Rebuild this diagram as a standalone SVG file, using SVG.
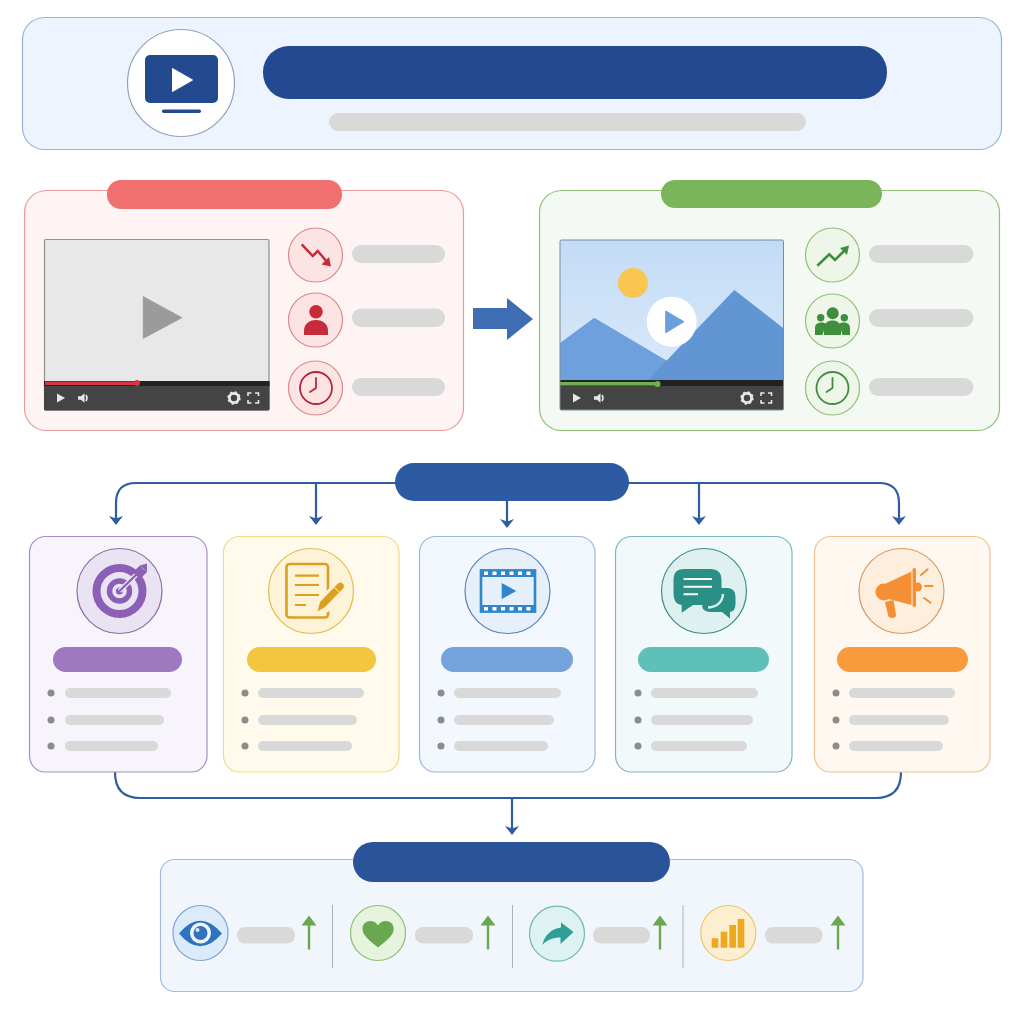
<svg xmlns="http://www.w3.org/2000/svg" width="1024" height="1024" viewBox="0 0 1024 1024">
<defs>
<style>
.bar{fill:#d9d9d9}
.bul{fill:#8c8c8c}
.conn{fill:none;stroke:#2f5da3;stroke-width:2.200}
.ctl{fill:#e8e8e8}
.ctls{fill:none;stroke:#e8e8e8;stroke-width:1.600}
.up{stroke:#6aa84f;stroke-width:2.400;fill:none}
.upH{fill:#6aa84f}
.div{stroke:#a9b4c2;stroke-width:1}
</style>
<marker id="ah" viewBox="0 0 10 14" refX="5" refY="7" markerWidth="10" markerHeight="14" markerUnits="userSpaceOnUse" orient="auto"><path d="M0 0L2.500 7L0 14L9 7Z" fill="#2f5da3"/></marker>
<linearGradient id="sky" x1="0" y1="0" x2="0" y2="1"><stop offset="0" stop-color="#c2dcf6"/><stop offset="1" stop-color="#dfecfa"/></linearGradient>
<g id="clockH"><path d="M0 -10V0L-6 4" fill="none" stroke-width="1.800" stroke-linecap="round"/></g>
<g id="playVol">
<path class="ctl" d="M0 -4.500L8 0L0 4.500Z"/>
<path class="ctl" d="M21 -1.800h3l3.500 -3v9.600l-3.500 -3h-3Z"/>
<path class="ctls" d="M29 -3q2 3 0 6" stroke-width="1"/>
</g>
<g id="gearFull">
<circle cx="0" cy="0" r="4.600" fill="none" stroke="#e8e8e8" stroke-width="2.800" />
<circle cx="0" cy="0" r="5.800" fill="none" stroke="#e8e8e8" stroke-width="1.800" stroke-dasharray="2.200 2.350"/>
<path class="ctls" d="M14 -2v-3h3.500M21 -5h3.500v3M24.500 2v3h-3.500M17.500 5h-3.500v-3"/>
</g>
<g id="upA"><path class="up" d="M0 34V6"/><path class="upH" d="M0 0L7.500 10H-7.500Z"/></g>
</defs>
<rect width="1024" height="1024" fill="#ffffff"/>

<g id="header">
<rect x="22.500" y="17.500" width="979" height="132" rx="22" fill="#edf4fd" stroke="#94b4dd" stroke-width="1.200"/>
<circle cx="181" cy="83" r="53.500" fill="#ffffff" stroke="#8fa3bd" stroke-width="1.200"/>
<rect x="145" y="55" width="73" height="48" rx="5" fill="#234a8f"/>
<path d="M172.500 68.500L192.500 80L172.500 91.500Z" fill="#ffffff" stroke="#ffffff" stroke-linejoin="round"/>
<rect x="162" y="109.500" width="39" height="3.500" rx="1.700" fill="#234a8f"/>
<rect x="263" y="46" width="624" height="53" rx="26" fill="#234a91"/>
<rect x="329" y="113" width="477" height="18" rx="9" fill="#d9d9d9"/>
</g>

<g id="before">
<rect x="24.500" y="190.500" width="439" height="240" rx="22" fill="#fef4f4" stroke="#eb9a9a" stroke-width="1.200"/>
<rect x="107" y="180" width="235" height="29" rx="14" fill="#f06f6f"/>
<rect x="44.500" y="239.500" width="224.500" height="170.500" rx="1.500" fill="#e8e8e8" stroke="#8f8f8f" stroke-width="1.200"/>
<path d="M143.300 296.700L181.700 317.700L143.300 338.300Z" fill="#9b9b9b" stroke="#9b9b9b" stroke-linejoin="round"/>
<rect x="44" y="381" width="225.500" height="29.500" rx="1.500" fill="#444444"/>
<rect x="44" y="381" width="225.500" height="5" fill="#222222"/>
<rect x="45" y="381.500" width="92" height="3.500" fill="#d5363f"/>
<circle cx="137" cy="383" r="3" fill="#d5363f"/>
<use href="#playVol" x="57" y="398"/>
<use href="#gearFull" x="234" y="398"/>
<circle cx="315.500" cy="255" r="27" fill="#fde4e4" stroke="#dc8a8d" stroke-width="1.200"/>
<path d="M301.700 244.300L312.700 256L317.700 251L328 263" fill="none" stroke="#c62b3a" stroke-width="2.500"/>
<path d="M331 266.500L321.500 264.500L329 257Z" fill="#c62b3a"/>
<circle cx="315.500" cy="320" r="27" fill="#fde4e4" stroke="#dc8a8d" stroke-width="1.200"/>
<circle cx="316" cy="311.700" r="6.800" fill="#c62b3a"/>
<path d="M304 335V331C304 324 309 320 316 320C323 320 328 324 328 331V335Z" fill="#c62b3a"/>
<circle cx="315.500" cy="388" r="27" fill="#fde4e4" stroke="#dc8a8d" stroke-width="1.200"/>
<circle cx="316" cy="388" r="16" fill="none" stroke="#b5283a" stroke-width="1.800"/>
<use href="#clockH" x="316" y="388" stroke="#b5283a"/>
<rect class="bar" x="352" y="245" width="93" height="18" rx="9"/>
<rect class="bar" x="352" y="308.500" width="93" height="18.500" rx="9"/>
<rect class="bar" x="352" y="378" width="93" height="18" rx="9"/>
</g>

<g id="after">
<rect x="539.500" y="190.500" width="460" height="240" rx="22" fill="#f4f9f3" stroke="#8fc07a" stroke-width="1.200"/>
<rect x="661" y="180" width="221" height="28" rx="14" fill="#7bb55a"/>
<rect x="560" y="240" width="223.500" height="170" fill="url(#sky)"/>
<circle cx="633" cy="283" r="15" fill="#f9c74f"/>
<path d="M560 343L594.300 317.700L660 356.700L700 380H560Z" fill="#6da0dc"/>
<path d="M648 380L734.300 290L783.500 328.300V380Z" fill="#6195d4"/>
<circle cx="671.700" cy="321.700" r="25" fill="#ffffff"/>
<path d="M665.700 311L684 321.700L665.700 332.700Z" fill="#6a9fde" stroke="#6a9fde" stroke-linejoin="round"/>
<rect x="560" y="380" width="223.500" height="30" fill="#444444"/>
<rect x="560" y="380" width="223.500" height="6" fill="#222222"/>
<rect x="560" y="382" width="97" height="3.500" fill="#6fb04f"/>
<circle cx="657.500" cy="384" r="3" fill="#6fb04f"/>
<rect x="560" y="240" width="223.500" height="170" rx="1.500" fill="none" stroke="#7f8a96" stroke-width="1"/>
<use href="#playVol" x="573" y="398"/>
<use href="#gearFull" x="747" y="398"/>
<circle cx="832.500" cy="255" r="27" fill="#eef6ea" stroke="#8fc07a" stroke-width="1.200"/>
<path d="M817.300 265.700L829.300 254.300L835 260L846 249" fill="none" stroke="#3e8e3e" stroke-width="2.600"/>
<path d="M849 245.500L847 255L840 248Z" fill="#3e8e3e"/>
<circle cx="832.500" cy="321" r="27" fill="#eef6ea" stroke="#8fc07a" stroke-width="1.200"/>
<circle cx="832.700" cy="313.300" r="6" fill="#3e8e3e"/>
<circle cx="820.700" cy="317.700" r="3.700" fill="#3e8e3e"/>
<circle cx="844.300" cy="317.700" r="3.700" fill="#3e8e3e"/>
<path d="M815 335V328C815 324 818 322.500 821.500 322.500C824 322.500 825 323 826 324L822.500 335Z" fill="#3e8e3e"/>
<path d="M850 335V328C850 324 847 322.500 843.500 322.500C841 322.500 840 323 839 324L842.500 335Z" fill="#3e8e3e"/>
<path d="M824 335V329C824 323 828 320.500 832.700 320.500C837 320.500 841 323 841 329V335Z" fill="#3e8e3e"/>
<circle cx="832.500" cy="388" r="27" fill="#eef6ea" stroke="#8fc07a" stroke-width="1.200"/>
<circle cx="832.500" cy="388" r="16" fill="none" stroke="#3e8e3e" stroke-width="1.800"/>
<use href="#clockH" x="832.500" y="388" stroke="#3e8e3e"/>
<rect class="bar" x="869" y="245" width="104.500" height="18" rx="9"/>
<rect class="bar" x="869" y="309" width="104.500" height="18" rx="9"/>
<rect class="bar" x="869" y="378" width="104.500" height="18" rx="9"/>
</g>

<g id="connectors">
<path d="M473 308H507V298L533 319L507 340V329H473Z" fill="#3f6db3"/>
<path class="conn" d="M396 483H136Q116 483 116 503V521" marker-end="url(#ah)"/>
<path class="conn" d="M316 483V521" marker-end="url(#ah)"/>
<path class="conn" d="M507 500V524" marker-end="url(#ah)"/>
<path class="conn" d="M628 483H879Q899 483 899 503V521" marker-end="url(#ah)"/>
<path class="conn" d="M699 483V521" marker-end="url(#ah)"/>
<path class="conn" d="M115 772Q115 798 140 798H876Q901 798 901 772"/>
<path class="conn" d="M512 798V831" marker-end="url(#ah)"/>
</g>

<g id="hub"><rect x="395" y="463" width="234" height="38" rx="19" fill="#2d5ba3"/></g>

<g id="card-goal">
<rect x="29.500" y="536.500" width="177.500" height="235.500" rx="16" fill="#f7f4fb" stroke="#a98cc8" stroke-width="1.200"/>
<circle cx="119.500" cy="591" r="42.500" fill="#e9e3f2" stroke="#8a70a8" stroke-width="1.200"/>
<circle cx="119.500" cy="591" r="23" fill="none" stroke="#8a5fb5" stroke-width="8"/>
<circle cx="119.500" cy="591" r="10" fill="none" stroke="#8a5fb5" stroke-width="5.500"/>
<circle cx="119.500" cy="591" r="3.500" fill="#8a5fb5"/>
<path d="M119.500 591L136 575" stroke="#e9e3f2" stroke-width="5"/>
<path d="M119.500 591L138 573" stroke="#8a5fb5" stroke-width="2.200"/>
<path d="M133 572L140 565.500L143 569L147 572L140 579L136.500 575.500Z M140 565.500L147 563.500L147 572Z" fill="#8a5fb5"/>
<rect x="53" y="647" width="129" height="25" rx="12.500" fill="#a078c0"/>
<circle class="bul" cx="51" cy="693" r="3.500"/><rect class="bar" x="65" y="688" width="106" height="10" rx="5"/>
<circle class="bul" cx="51" cy="720" r="3.500"/><rect class="bar" x="65" y="715" width="99" height="10" rx="5"/>
<circle class="bul" cx="51" cy="746" r="3.500"/><rect class="bar" x="65" y="741" width="93" height="10" rx="5"/>
</g>

<g id="card-script">
<rect x="223.500" y="536.500" width="175.500" height="235.500" rx="16" fill="#fffaeb" stroke="#f2d98a" stroke-width="1.200"/>
<circle cx="311" cy="591" r="42.500" fill="#fdf3d6" stroke="#e1bc50" stroke-width="1.200"/>
<rect x="286.500" y="564" width="41.500" height="53.500" rx="3" fill="none" stroke="#dba021" stroke-width="2.600"/>
<path d="M295 575.700H319M295 585H319M295 595H319M295 605H306" stroke="#dba021" stroke-width="2.200"/>
<path d="M314 615L318 599L338 580L349 590L328 612Z" fill="#fdf3d6"/>
<path d="M317.500 611.500L320 602L338 583.500Q340.500 581.500 343 584Q345 586 343 588.500L325 607Z" fill="#dba021"/>
<path d="M334.500 587.500L339.500 592.500" stroke="#fdf3d6" stroke-width="1"/>
<rect x="247" y="647" width="129" height="25" rx="12.500" fill="#f3c63f"/>
<circle class="bul" cx="245" cy="693" r="3.500"/><rect class="bar" x="258" y="688" width="106" height="10" rx="5"/>
<circle class="bul" cx="245" cy="720" r="3.500"/><rect class="bar" x="258" y="715" width="99" height="10" rx="5"/>
<circle class="bul" cx="245" cy="746" r="3.500"/><rect class="bar" x="258" y="741" width="94" height="10" rx="5"/>
</g>

<g id="card-video">
<rect x="419.500" y="536.500" width="175.500" height="235.500" rx="16" fill="#f3f8fe" stroke="#9db8dc" stroke-width="1.200"/>
<circle cx="507.500" cy="591" r="42.500" fill="#e6f0fa" stroke="#5c82b8" stroke-width="1.200"/>
<rect x="481" y="570.500" width="54" height="41" fill="none" stroke="#2f86c9" stroke-width="2.600"/>
<rect x="480" y="569.500" width="56" height="7.500" fill="#2f86c9"/>
<rect x="480" y="605" width="56" height="7.500" fill="#2f86c9"/>
<path d="M484 571.500h4v3.500h-4zM492.500 571.500h4v3.500h-4zM501 571.500h4v3.500h-4zM509.500 571.500h4v3.500h-4zM518 571.500h4v3.500h-4zM526.500 571.500h4v3.500h-4zM484 607h4v3.500h-4zM492.500 607h4v3.500h-4zM501 607h4v3.500h-4zM509.500 607h4v3.500h-4zM518 607h4v3.500h-4zM526.500 607h4v3.500h-4z" fill="#ffffff"/>
<path d="M501.700 583L516.400 591L501.700 599Z" fill="#2f86c9"/>
<rect x="441" y="647" width="132" height="25" rx="12.500" fill="#75a3dc"/>
<circle class="bul" cx="441" cy="693" r="3.500"/><rect class="bar" x="454" y="688" width="107" height="10" rx="5"/>
<circle class="bul" cx="441" cy="720" r="3.500"/><rect class="bar" x="454" y="715" width="100" height="10" rx="5"/>
<circle class="bul" cx="441" cy="746" r="3.500"/><rect class="bar" x="454" y="741" width="94" height="10" rx="5"/>
</g>

<g id="card-chat">
<rect x="615.500" y="536.500" width="176.500" height="235.500" rx="16" fill="#f1f9fa" stroke="#7fb8bf" stroke-width="1.200"/>
<circle cx="704" cy="591" r="42.500" fill="#def1f0" stroke="#3f8d88" stroke-width="1.200"/>
<path d="M711 588H727Q735.500 588 735.500 597V604Q735.500 611 730 612L730 618.500L722 612H712Q702.500 612 702 606Z" fill="#2a8f85"/>
<path d="M684 569H710Q721.500 569 721.500 580V594Q721.500 605 710 605H693L681.700 612.700V605Q673.500 604 673.500 594V580Q673.500 569 684 569Z" fill="#2a8f85"/>
<path d="M723 594Q722 606.500 708 607.500" fill="none" stroke="#def1f0" stroke-width="2.400"/>
<path d="M683.600 579H712M683.600 586.700H712M683.600 594.300H698" stroke="#ffffff" stroke-width="2"/>
<rect x="638" y="647" width="131" height="25" rx="12.500" fill="#5fc0ba"/>
<circle class="bul" cx="638" cy="693" r="3.500"/><rect class="bar" x="651" y="688" width="107" height="10" rx="5"/>
<circle class="bul" cx="638" cy="720" r="3.500"/><rect class="bar" x="651" y="715" width="102" height="10" rx="5"/>
<circle class="bul" cx="638" cy="746" r="3.500"/><rect class="bar" x="651" y="741" width="96" height="10" rx="5"/>
</g>

<g id="card-promo">
<rect x="814.500" y="536.500" width="175.500" height="235.500" rx="16" fill="#fff8f1" stroke="#f3c08e" stroke-width="1.200"/>
<circle cx="901.500" cy="591" r="42.500" fill="#fdeedd" stroke="#d99a5e" stroke-width="1.200"/>
<circle cx="884" cy="592" r="8.500" fill="#f58f35"/>
<path d="M885 584L911.500 571.500V605L885 598Z" fill="#f58f35"/>
<rect x="912.500" y="568" width="3.500" height="39" rx="1.700" fill="#f58f35"/>
<circle cx="917.500" cy="587" r="4.500" fill="#f58f35"/>
<path d="M885 602L893.500 600L896 615Q896 618 892 618Q888.500 618 888 615Z" fill="#f58f35"/>
<path d="M921 575L927.700 569.300M925 586H932.600M924 598L930.600 602.700" stroke="#f58f35" stroke-width="2" stroke-linecap="round"/>
<rect x="837" y="647" width="131" height="25" rx="12.500" fill="#f99a3c"/>
<circle class="bul" cx="836" cy="693" r="3.500"/><rect class="bar" x="849" y="688" width="106" height="10" rx="5"/>
<circle class="bul" cx="836" cy="720" r="3.500"/><rect class="bar" x="849" y="715" width="100" height="10" rx="5"/>
<circle class="bul" cx="836" cy="746" r="3.500"/><rect class="bar" x="849" y="741" width="94" height="10" rx="5"/>
</g>

<g id="results">
<rect x="160.500" y="859.500" width="702.500" height="132" rx="14" fill="#f1f6fd" stroke="#a3bcdf" stroke-width="1.200"/>
<rect x="353" y="842" width="317" height="40" rx="20" fill="#2a5499"/>
<line class="div" x1="332.500" y1="905" x2="332.500" y2="968"/>
<line class="div" x1="512.500" y1="905" x2="512.500" y2="968"/>
<line class="div" x1="683" y1="905" x2="683" y2="968"/>
</g>

<g id="metric-views">
<circle cx="200.500" cy="933" r="27.500" fill="#dcebfa" stroke="#7ea3d3" stroke-width="1.200"/>
<path d="M179 933.500Q200 908 222 933.500Q200 959 179 933.500Z" fill="#2f72bd"/>
<circle cx="200.500" cy="933" r="10.500" fill="#eef5fc"/>
<circle cx="200.500" cy="933" r="7" fill="#2f72bd"/>
<circle cx="197.500" cy="930" r="2" fill="#dcebfa"/>
<rect class="bar" x="237" y="927" width="58" height="16.500" rx="8"/>
<use href="#upA" x="309" y="915.500"/>
</g>

<g id="metric-likes">
<circle cx="378" cy="933" r="27.500" fill="#e6f3dd" stroke="#93bd78" stroke-width="1.200"/>
<path d="M378 947.500C370 941 362.500 935.500 362.500 929C362.500 920 374 918.500 378 925.500C382 918.500 393.700 920 393.700 929C393.700 935.500 386 941 378 947.500Z" fill="#6aa84f"/>
<rect class="bar" x="415" y="927" width="58" height="16.500" rx="8"/>
<use href="#upA" x="488" y="915.500"/>
</g>

<g id="metric-shares">
<circle cx="557" cy="933.700" r="27.500" fill="#dff2f2" stroke="#6db9b5" stroke-width="1.200"/>
<path d="M573.500 932L561 922.500V927.500C552 928.500 544.500 935 542.300 945C547.500 939.500 553 937.500 560.500 937.500V944Z" fill="#2f9e98"/>
<rect class="bar" x="593" y="927" width="57" height="16.500" rx="8"/>
<use href="#upA" x="660" y="915.500"/>
</g>

<g id="metric-growth">
<circle cx="728.300" cy="933" r="27.500" fill="#fdeecf" stroke="#eec86b" stroke-width="1.200"/>
<path d="M711.700 938.300h6.600v9.400h-6.600zM720.700 931.700h6.600v16h-6.600zM729.300 925h6.700v22.700h-6.700zM737.700 919h6.600v28.700h-6.600z" fill="#eea81e"/>
<rect class="bar" x="765" y="927" width="57.500" height="16.500" rx="8"/>
<use href="#upA" x="838" y="915.500"/>
</g>
</svg>
